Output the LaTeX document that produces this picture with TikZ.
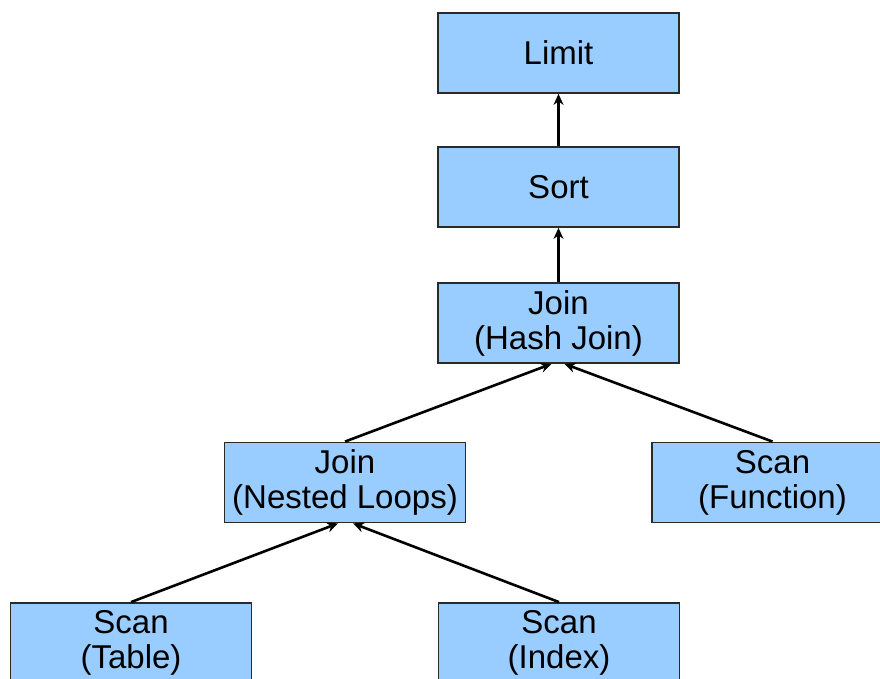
\documentclass[tikz,border=0pt]{standalone}
\usepackage{fontspec}
\setmainfont{Liberation Sans}
\usetikzlibrary{arrows.meta,calc}
\definecolor{boxfill}{HTML}{99CCFF}
\definecolor{boxline}{HTML}{2A2A2A}
\begin{document}
\begin{tikzpicture}[x=1pt,y=1pt,
  opbox/.style={rectangle, draw=boxline, fill=boxfill, line width=1.8pt,
    minimum width=241pt, minimum height=80pt, inner sep=0pt, align=center,
    font=\fontsize{33}{35}\selectfont},
  flow/.style={draw=black, line width=2.6pt, -{Stealth[length=11pt,width=10pt]}}]
\useasboundingbox (0,0) rectangle (880,679);
\node[opbox] (limit) at (558.5,626) {Limit};
\node[opbox] (sort) at (558.5,492) {Sort};
\node[opbox] (hash) at (558.5,356) {Join\\(Hash Join)};
\node[opbox] (nested) at (345,196.5) {Join\\(Nested Loops)};
\node[opbox] (func) at (772.5,196.5) {Scan\\(Function)};
\node[opbox] (table) at (131,36) {Scan\\(Table)};
\node[opbox] (index) at (559,36) {Scan\\(Index)};
\draw[flow] (sort.north) -- (limit.south);
\draw[flow] (hash.north) -- (sort.south);
\draw[flow] (nested.north) -- ($(hash.south)+(-7,0)$);
\draw[flow] (func.north) -- ($(hash.south)+(6,0)$);
\draw[flow] (table.north) -- ($(nested.south)+(-7,0)$);
\draw[flow] (index.north) -- ($(nested.south)+(8,0)$);
\end{tikzpicture}
\end{document}
